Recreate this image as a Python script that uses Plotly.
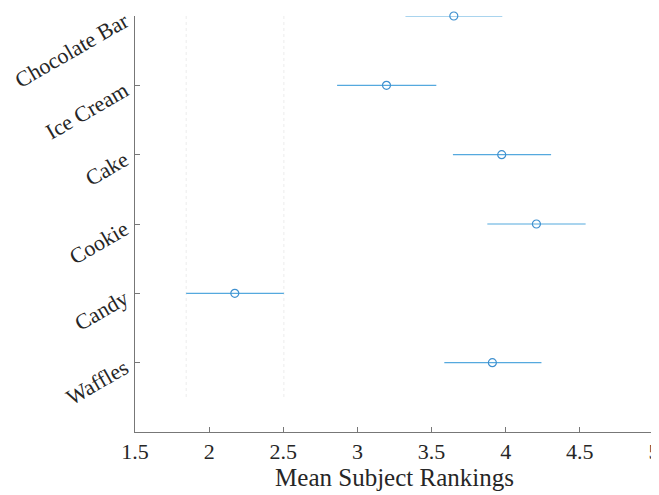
import plotly.graph_objects as go

categories = ["Chocolate Bar", "Ice Cream", "Cake", "Cookie", "Candy", "Waffles"]
means = [3.65, 3.196, 3.973, 4.207, 2.173, 3.91]
lower = [3.324, 2.863, 3.644, 3.876, 1.845, 3.586]
upper = [3.977, 3.532, 4.306, 4.539, 2.504, 4.241]
x_ticks = [1.5, 2, 2.5, 3, 3.5, 4, 4.5, 5]
x_tick_labels = ["1.5", "2", "2.5", "3", "3.5", "4", "4.5", "5"]
highlight_idx = 4  # Candy: reference group for comparison lines

blue = "#55A9DE"
ypos = list(range(1, len(categories) + 1))
n = len(categories)

fig = go.Figure()

# comparison lines (faint dotted verticals at the Candy interval bounds)
for xv in (lower[highlight_idx], upper[highlight_idx]):
    fig.add_trace(go.Scatter(
        x=[xv, xv], y=[1, n + 0.5], mode="lines",
        line=dict(color="#ECECEC", width=1, dash="dot"),
        hoverinfo="skip", showlegend=False))

# interval lines
for i, y in enumerate(ypos):
    fig.add_trace(go.Scatter(
        x=[lower[i], upper[i]], y=[y, y], mode="lines", cliponaxis=False,
        line=dict(color=blue, width=1.2), showlegend=False))

fig.add_trace(go.Scatter(
    x=means, y=ypos, mode="markers", cliponaxis=False,
    marker=dict(symbol="circle-open", size=8, color="#3F90CF", line=dict(width=1.2)),
    showlegend=False))

font_family = "Liberation Serif, Times New Roman, serif"
fig.update_layout(
    width=659, height=495,
    margin=dict(l=127, r=13, t=8, b=71),
    paper_bgcolor="white", plot_bgcolor="white",
    font=dict(family=font_family, color="#262626"),
    xaxis=dict(
        range=[1.5, 5], tickvals=x_ticks, ticktext=x_tick_labels, automargin=False,
        ticklabeloverflow="allow",
        showgrid=False, zeroline=False, showline=True, linecolor="#777777", linewidth=1,
        ticks="inside", ticklen=5, tickcolor="#777777",
        tickfont=dict(size=22, family=font_family, color="#262626"),
        title=dict(text="Mean Subject Rankings", font=dict(size=25, family=font_family), standoff=2),
    ),
    yaxis=dict(
        range=[n + 1, 1], tickvals=ypos, ticktext=categories, automargin=False,
        ticklabeloverflow="allow", ticklabelstandoff=5, ticklabelshift=-3,
        showgrid=False, zeroline=False, showline=True, linecolor="#777777", linewidth=1,
        ticks="inside", ticklen=5, tickcolor="#777777", tickangle=-30,
        tickfont=dict(size=22, family=font_family, color="#262626"),
    ),
)

fig.write_html("out.html")
